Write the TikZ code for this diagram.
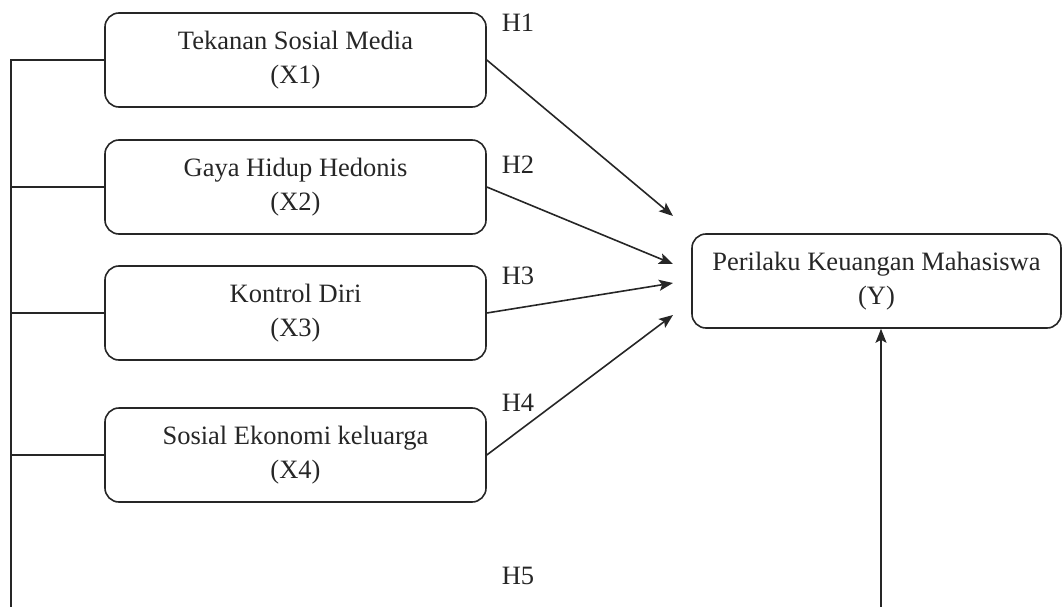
\documentclass[tikz,border=0pt]{standalone}
\usepackage{fontspec}
\setmainfont{Liberation Serif}
\usetikzlibrary{arrows.meta}
\begin{document}
\begin{tikzpicture}[x=1pt,y=-1pt,
  varbox/.style={draw=black!85, rounded corners=14pt, line width=1.6pt,
    minimum width=381pt, minimum height=94pt, align=center,
    font=\fontsize{26.5}{34}\selectfont, inner sep=0pt, text=black!85},
  ybox/.style={varbox, minimum width=369pt},
  hyp/.style={font=\fontsize{26.5}{34}\selectfont, inner sep=0pt, text=black!85},
  conn/.style={line width=1.6pt, draw=black!85},
  arr/.style={conn, -{Stealth[length=14pt,width=11pt,inset=3pt]}}]
\useasboundingbox (0,0) rectangle (1062,607);
\node[varbox] (X1) at (295.5,60) {Tekanan Sosial Media\\(X1)};
\node[varbox] (X2) at (295.5,187) {Gaya Hidup Hedonis\\(X2)};
\node[varbox] (X3) at (295.5,313) {Kontrol Diri\\(X3)};
\node[varbox] (X4) at (295.5,455) {Sosial Ekonomi keluarga\\(X4)};
\node[ybox] (Y) at (876.5,281) {Perilaku Keuangan Mahasiswa\\(Y)};
\node[hyp] (H1) at (518,23) {H1};
\node[hyp] (H2) at (518,165) {H2};
\node[hyp] (H3) at (518,276) {H3};
\node[hyp] (H4) at (518,403) {H4};
\node[hyp] (H5) at (518,576) {H5};
\coordinate (T1) at (673,216);
\coordinate (T2) at (673,264);
\coordinate (T3) at (673,283);
\coordinate (T4) at (673,315);
\coordinate (L) at (11,607);
\coordinate (B) at (881,607);
\draw[arr] (X1.east) -- (T1);
\draw[arr] (X2.east) -- (T2);
\draw[arr] (X3.east) -- (T3);
\draw[arr] (X4.east) -- (T4);
\draw[arr] (B) -- (B |- Y.south);
\draw[conn] (X1.west) -| (L);
\draw[conn] (X2.west) -- (X2.west -| L);
\draw[conn] (X3.west) -- (X3.west -| L);
\draw[conn] (X4.west) -- (X4.west -| L);
\end{tikzpicture}
\end{document}
